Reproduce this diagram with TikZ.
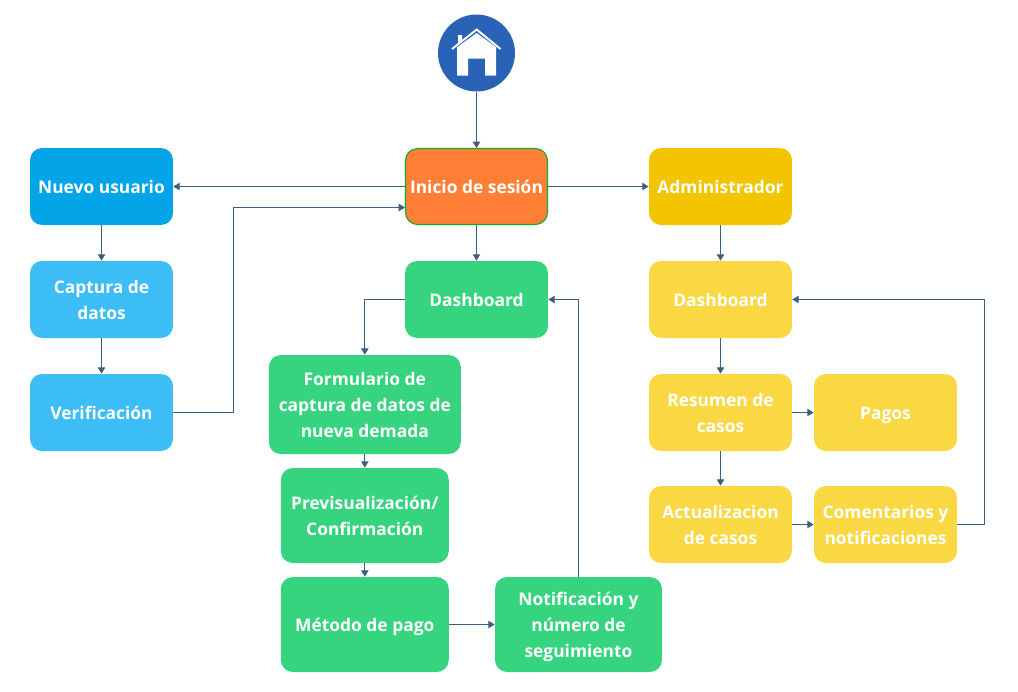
\documentclass[tikz,border=0pt]{standalone}
\usepackage{fontspec}
\setmainfont{Open Sans}
\usepackage{xcolor}
\usetikzlibrary{calc,arrows.meta}
\definecolor{azul}{HTML}{03A5E8}
\definecolor{celeste}{HTML}{3DBDF5}
\definecolor{verde}{HTML}{36D47F}
\definecolor{naranja}{HTML}{FF7F36}
\definecolor{ambar}{HTML}{F2C500}
\definecolor{amarillo}{HTML}{F9D843}
\definecolor{linea}{HTML}{3A5F7F}
\definecolor{casa}{HTML}{2A62B8}
\tikzset{
  caja/.style={rounded corners=0.24cm, minimum width=2.86cm, minimum height=1.54cm, inner sep=0pt,
    align=center, text=white, font=\fontsize{9.9}{14.8}\selectfont\bfseries,
    execute at begin node={\rule{0pt}{11.5pt}}, execute at end node={\rule[-3.2pt]{0pt}{3.2pt}}},
  varias/.style={text depth=0pt},
  flecha/.style={color=linea, line width=0.6pt, -{Triangle[length=3.6pt,width=4.2pt]}}
}
\begin{document}
\begin{tikzpicture}[x=0.02cm,y=-0.02cm]
  \useasboundingbox (0,0) rectangle (1018,691);

  \node[circle, fill=casa, minimum size=1.54cm, inner sep=0pt] (home) at (476.5,53) {};
  % la casita
  \fill[white] (457,45) -- (476.7,31) -- (496,45) -- (496,75.5) -- (485,75.5) -- (485,58.5) -- (468,58.5) -- (468,75.5) -- (457,75.5) -- cycle;
  \fill[white] (458,35) -- (462,35) -- (462,42) -- (458,45) -- cycle;
  \draw[casa, line width=1.2pt] (449,51.5) -- (476.7,31.5) -- (504,51.5);
  \draw[white, line width=1.1pt] (452,49) -- (476.7,29.5) -- (500.5,49);

  \node[caja, fill=naranja, draw=green!60!black!70!verde, line width=0.6pt, minimum width=2.84cm, minimum height=1.52cm] (inicio) at (476.5,186.5) {Inicio de sesión};
  \node[caja, fill=azul] (nuevo) at (101.5,186.5) {Nuevo usuario};
  \node[caja, fill=ambar] (admin) at (720.5,186.5) {Administrador};

  \node[caja, varias, fill=celeste] (captura) at (101.5,299.5) {Captura de\\datos};
  \node[caja, fill=celeste] (verif) at (101.5,412.5) {Verificación};

  \node[caja, fill=verde] (dashv) at (476.5,299.5) {Dashboard};
  \node[caja, varias, fill=verde, minimum width=3.84cm, minimum height=1.98cm] (form) at (364.8,404.5) {Formulario de\\captura de datos de\\nueva demada};
  \node[caja, varias, fill=verde, minimum width=3.36cm, minimum height=1.9cm] (previs) at (364.8,515.5) {Previsualización/\\Confirmación};
  \node[caja, fill=verde, minimum width=3.36cm, minimum height=1.9cm] (metodo) at (364.8,624.5) {Método de pago};
  \node[caja, varias, fill=verde, minimum width=3.34cm, minimum height=1.9cm] (notif) at (578.5,624.5) {Notificación y\\número de\\seguimiento};

  \node[caja, fill=amarillo] (dasha) at (720.5,299.5) {Dashboard};
  \node[caja, varias, fill=amarillo] (resumen) at (720.5,412.5) {Resumen de\\casos};
  \node[caja, fill=amarillo] (pagos) at (885.5,412.5) {Pagos};
  \node[caja, varias, fill=amarillo] (actual) at (720.5,524.5) {Actualizacion\\de casos};
  \node[caja, varias, fill=amarillo] (coment) at (885.5,524.5) {Comentarios y\\notificaciones};

  \coordinate (entrada) at (405,207.5);
  \coordinate (codo) at (233.5,412.5);
  \coordinate (retorno) at (984.5,524.5);

  \draw[flecha] (home) -- (inicio);
  \draw[flecha] (inicio) -- (nuevo);
  \draw[flecha] (inicio) -- (admin);
  \draw[flecha] (inicio) -- (dashv);
  \draw[flecha] (nuevo) -- (captura);
  \draw[flecha] (captura) -- (verif);
  \draw[flecha] (verif) -- (codo) |- (entrada);
  \draw[flecha] (dashv.west) -| (form.north);
  \draw[flecha] (form) -- (previs);
  \draw[flecha] (previs) -- (metodo);
  \draw[flecha] (metodo) -- (notif);
  \draw[flecha] (notif.north) |- (dashv.east);
  \draw[flecha] (admin) -- (dasha);
  \draw[flecha] (dasha) -- (resumen);
  \draw[flecha] (resumen) -- (pagos);
  \draw[flecha] (resumen) -- (actual);
  \draw[flecha] (actual) -- (coment);
  \draw[flecha] (coment) -- (retorno) |- (dasha.east);
\end{tikzpicture}
\end{document}
